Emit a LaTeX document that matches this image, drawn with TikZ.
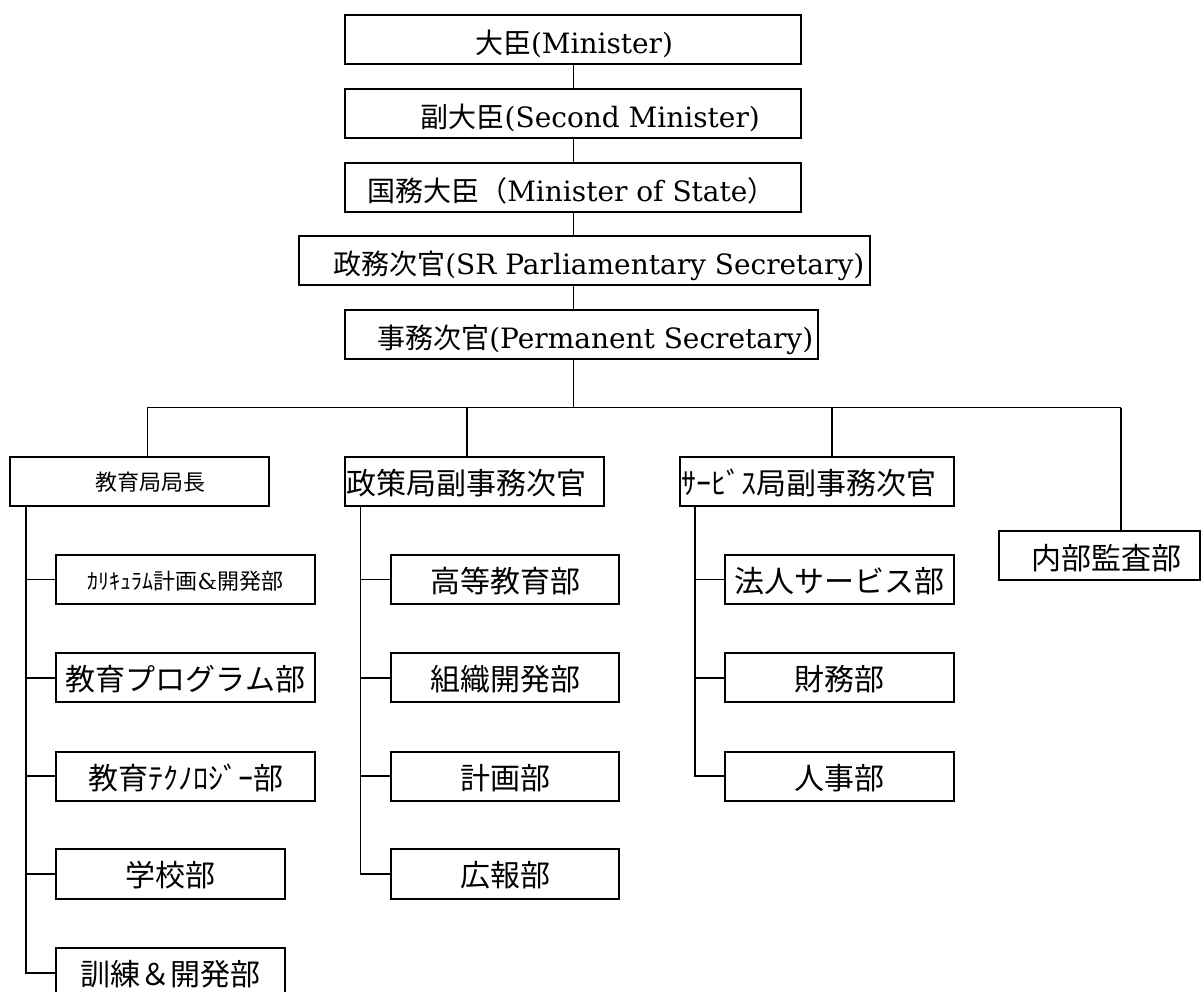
\documentclass[tikz,border=0pt]{standalone}
\usepackage{fontspec}
\setmainfont{DejaVu Serif}
\newfontfamily\cjk{Noto Sans CJK JP}
\usetikzlibrary{fit}
\tikzset{
  box/.style={draw=black, line width=2pt, inner sep=0pt, outer sep=0pt},
  conn/.style={draw=black, line width=1.6pt},
  lbl/.style={inner sep=0pt, outer sep=0pt},
  fa/.style={lbl, font=\fontsize{28}{34}\selectfont},
  fb/.style={lbl, font=\fontsize{30}{36}\selectfont\cjk},
  fc/.style={lbl, font=\fontsize{22}{26}\selectfont}
}
\begin{document}
\begin{tikzpicture}[x=1pt, y=-1pt]
\clip (0,0) rectangle (1202,992);
\fill[white] (0,0) rectangle (1202,992);
% top chain
\node[box, fit={(345,15) (801,64.3)}] (b1) {};
\node[box, fit={(345,89) (801,137.7)}] (b2) {};
\node[box, fit={(345,163) (801,211.7)}] (b3) {};
\node[box, fit={(299.3,236.3) (870,285.3)}] (b4) {};
\node[box, fit={(345,310) (817.5,359)}] (b5) {};
\node[fa, anchor=base west] (tb1) at (475,53.8) {{\cjk 大臣}(Minister)};
\node[fa, anchor=base west] (tb2) at (420.7,127.2) {{\cjk 副大臣}(Second Minister)};
\node[fa, anchor=base west] (tb3) at (367.3,201.2) {{\cjk 国務大臣（}Minister of State{\cjk ）}};
\node[fa, anchor=base west] (tb4) at (333.3,274.8) {{\cjk 政務次官}(SR Parliamentary Secretary)};
\node[fa, anchor=base west] (tb5) at (377.3,348.5) {{\cjk 事務次官}(Permanent Secretary)};
% level 2
\node[box, fit={(10.3,457) (269.4,506.3)}] (d1) {};
\node[box, fit={(345,457) (604,506.3)}] (d2) {};
\node[box, fit={(679.5,457) (953.5,506.3)}] (d3) {};
\node[box, fit={(998.7,530.7) (1200,580)}] (d4) {};
\node[fc, anchor=base west] (td1) at (95.7,490.9) {\cjk 教育局局長};
\node[fb, anchor=base west] (td2) at (346.7,494) {政策局副事務次官};
\node[fb, anchor=base west] (td3) at (681.8,494) {ｻｰﾋﾞｽ局副事務次官};
\node[fb, anchor=base] (td4) at (1106,569) {内部監査部};
% column 1
\node[box, fit={(56,555) (315,604)}] (e11) {};
\node[box, fit={(56,653.3) (315,702.3)}] (e12) {};
\node[box, fit={(56,751.7) (315,800.7)}] (e13) {};
\node[box, fit={(56,849.3) (285,898.7)}] (e14) {};
\node[box, fit={(56,948.3) (285,997.3)}] (e15) {};
\node[fc, anchor=base] (te11) at (185.5,589.2) {{\cjk ｶﾘｷｭﾗﾑ計画}\&{\cjk 開発部}};
\node[fb, anchor=base] (te12) at (185.5,690.8) {教育プログラム部};
\node[fb, anchor=base] (te13) at (185.5,789.2) {教育ﾃｸﾉﾛｼﾞｰ部};
\node[fb, anchor=base] (te14) at (170.5,886.8) {学校部};
\node[fb, anchor=base] (te15) at (170.5,985.8) {訓練＆開発部};
% column 2
\node[box, fit={(390.7,555) (619,604)}] (e21) {};
\node[box, fit={(390.7,653.3) (619,702.3)}] (e22) {};
\node[box, fit={(390.7,751.7) (619,800.7)}] (e23) {};
\node[box, fit={(390.7,849.3) (619,898.7)}] (e24) {};
\node[fb, anchor=base] (te21) at (505,592.5) {高等教育部};
\node[fb, anchor=base] (te22) at (505,690.8) {組織開発部};
\node[fb, anchor=base] (te23) at (505,789.2) {計画部};
\node[fb, anchor=base] (te24) at (505,886.8) {広報部};
% column 3
\node[box, fit={(725,555) (953.5,604)}] (e31) {};
\node[box, fit={(725,653.3) (953.5,702.3)}] (e32) {};
\node[box, fit={(725,751.7) (953.5,800.7)}] (e33) {};
\node[fb, anchor=base] (te31) at (839.3,592.5) {法人サービス部};
\node[fb, anchor=base] (te32) at (839.3,690.8) {財務部};
\node[fb, anchor=base] (te33) at (839.3,789.2) {人事部};
% connectors
\coordinate (spine) at (573.3,0);
\coordinate (busL) at (147.3,407.5);
\coordinate (busR) at (1120.7,407.5);
\coordinate (j2) at (467,407.5);
\coordinate (j3) at (832,407.5);
\coordinate (k1) at (26,0);
\coordinate (k2) at (360.3,0);
\coordinate (k3) at (695,0);
\draw[conn] (spine |- b1.south) -- (spine |- b2.north);
\draw[conn] (spine |- b2.south) -- (spine |- b3.north);
\draw[conn] (spine |- b3.south) -- (spine |- b4.north);
\draw[conn] (spine |- b4.south) -- (spine |- b5.north);
\draw[conn] (spine |- b5.south) -- (spine |- busL);
\draw[conn] (busL) -- (busR);
\draw[conn] (busL) -- (busL |- d1.north);
\draw[conn] (j2) -- (j2 |- d2.north);
\draw[conn] (j3) -- (j3 |- d3.north);
\draw[conn] (busR) -- (busR |- d4.north);
\draw[conn] (k1 |- d1.south) |- (e15.west);
\draw[conn] (k1 |- e11.west) -- (e11.west);
\draw[conn] (k1 |- e12.west) -- (e12.west);
\draw[conn] (k1 |- e13.west) -- (e13.west);
\draw[conn] (k1 |- e14.west) -- (e14.west);
\draw[conn] (k2 |- d2.south) |- (e24.west);
\draw[conn] (k2 |- e21.west) -- (e21.west);
\draw[conn] (k2 |- e22.west) -- (e22.west);
\draw[conn] (k2 |- e23.west) -- (e23.west);
\draw[conn] (k3 |- d3.south) |- (e33.west);
\draw[conn] (k3 |- e31.west) -- (e31.west);
\draw[conn] (k3 |- e32.west) -- (e32.west);
\end{tikzpicture}
\end{document}
